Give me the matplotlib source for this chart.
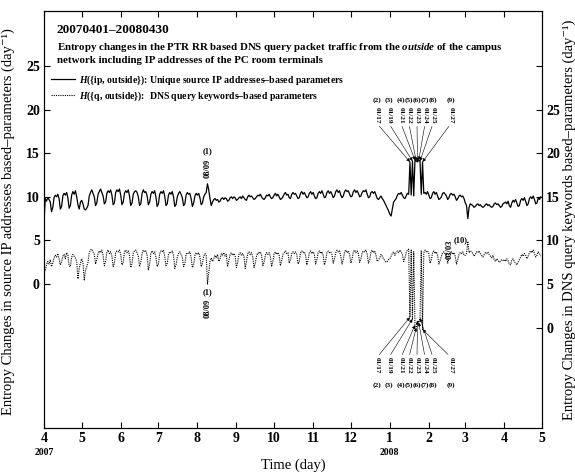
import numpy as np
import pandas as pd
import matplotlib
matplotlib.use('Agg')
import matplotlib.pyplot as plt
import matplotlib.dates as mdates
import matplotlib.transforms as mtransforms

plt.rcParams['font.family'] = ['Liberation Serif', 'DejaVu Serif']
plt.rcParams['mathtext.fontset'] = 'custom'
plt.rcParams['mathtext.rm'] = 'Liberation Serif:bold'
plt.rcParams['mathtext.it'] = 'Liberation Serif:italic:bold'
plt.rcParams['mathtext.bf'] = 'Liberation Serif:bold'

# daily entropy changes, one row per month (2007-04 .. 2008-04)
# H({ip, outside}) - left axis
ip_outside = [
    7.0, 9.8, 9.5, 9.9, 9.7, 9.4, 8.3, 8.8, 9.9, 10.2, 10.0, 10.3, 9.8, 8.6, 8.9, 10.1, 10.4, 10.2, 10.5, 9.9, 8.7, 9.0, 10.2, 10.6, 10.3, 10.7, 10.0, 9.1, 8.6, 9.4,
    9.6, 9.2, 8.6, 8.5, 8.7, 9.0, 10.1, 10.5, 10.8, 10.4, 10.0, 9.0, 9.3, 10.3, 10.6, 10.9, 10.5, 10.1, 9.2, 9.4, 10.4, 10.7, 10.5, 10.8, 10.2, 9.1, 9.3, 10.5, 10.8, 10.6, 10.9,
    10.2, 9.1, 9.4, 10.4, 10.7, 10.5, 10.8, 10.1, 9.0, 9.3, 10.3, 10.6, 10.7, 10.5, 10.0, 9.0, 9.2, 10.4, 10.8, 10.5, 10.6, 10.1, 9.1, 9.4, 10.3, 10.6, 10.4, 10.7, 10.0, 8.9,
    9.2, 10.3, 10.6, 10.4, 10.7, 10.1, 9.0, 9.2, 10.2, 10.5, 10.3, 10.6, 10.0, 8.9, 9.1, 10.0, 10.4, 10.6, 10.3, 9.9, 9.0, 9.2, 10.2, 10.5, 10.3, 10.4, 9.8, 8.9, 9.3, 10.1, 10.4,
    10.2, 10.4, 9.9, 9.1, 9.3, 10.0, 10.3, 10.5, 11.5, 10.8, 9.8, 9.0, 9.4, 9.7, 9.8, 9.6, 9.7, 9.4, 9.5, 9.8, 9.9, 9.7, 9.9, 9.8, 9.5, 9.6, 9.9, 10.0, 9.8, 10.0, 9.9,
    9.6, 9.7, 9.9, 10.0, 9.8, 10.1, 9.9, 9.7, 9.6, 10.0, 10.2, 10.0, 10.1, 9.9, 9.7, 9.8, 10.0, 10.2, 10.1, 10.3, 10.0, 9.8, 9.7, 9.9, 10.2, 10.1, 10.3, 10.0, 9.8, 9.9,
    10.2, 10.4, 10.1, 10.3, 10.0, 9.7, 9.8, 10.0, 10.3, 10.5, 10.2, 10.3, 9.9, 9.8, 10.3, 10.5, 10.3, 10.4, 10.1, 9.8, 9.9, 10.4, 10.6, 10.3, 10.5, 10.2, 9.9, 10.0, 10.4, 10.6, 10.3,
    10.5, 10.1, 9.8, 9.9, 10.4, 10.6, 10.4, 10.7, 10.3, 9.9, 10.0, 10.5, 10.7, 10.4, 10.6, 10.3, 9.9, 10.1, 10.6, 10.8, 10.5, 10.7, 10.2, 9.9, 10.1, 10.6, 10.8, 10.6, 10.7, 10.3,
    10.0, 10.1, 10.6, 10.8, 10.5, 10.7, 10.4, 10.0, 10.1, 10.5, 10.7, 10.6, 10.8, 10.3, 9.9, 10.0, 10.5, 10.6, 10.4, 10.6, 10.2, 9.8, 9.7, 9.9, 10.1, 9.8, 9.6, 9.3, 9.0, 8.7, 8.4,
    8.0, 7.8, 8.6, 9.4, 9.6, 9.8, 10.2, 10.4, 10.3, 10.5, 10.2, 9.9, 9.8, 10.1, 10.4, 10.3, 14.0, 10.2, 14.1, 10.1, 14.2, 14.1, 14.0, 14.2, 14.1, 10.3, 14.0, 10.4, 10.5, 10.3, 10.6,
    10.2, 9.8, 9.9, 10.4, 10.6, 10.3, 10.5, 10.1, 9.7, 9.8, 10.0, 10.4, 10.5, 10.3, 10.1, 9.7, 9.9, 10.3, 10.4, 10.2, 10.3, 10.0, 9.6, 9.8, 10.1, 10.2, 10.0, 10.1, 9.8,
    9.3, 9.0, 7.5, 8.8, 9.2, 9.1, 9.0, 8.8, 8.9, 9.1, 9.2, 9.0, 9.1, 8.9, 8.8, 8.9, 9.1, 9.2, 9.0, 9.1, 8.9, 8.8, 8.9, 9.2, 9.3, 9.1, 9.2, 9.0, 8.8, 8.9, 9.2,
    9.3, 9.4, 9.2, 9.5, 9.0, 8.8, 9.3, 9.6, 9.4, 9.7, 9.3, 8.9, 9.0, 9.6, 9.8, 9.6, 9.9, 9.5, 9.0, 9.2, 9.8, 10.0, 9.8, 10.1, 9.7, 9.2, 9.3, 9.9, 9.7, 10.0,
]

# H({q, outside}) - right axis
dns_outside = [
    6.6, 6.5, 7.2, 7.6, 7.3, 7.8, 7.0, 7.4, 8.0, 8.3, 8.1, 8.5, 7.9, 7.2, 7.6, 8.2, 8.4, 7.9, 8.6, 8.3, 7.1, 7.0, 8.1, 8.4, 8.2, 8.0, 7.6, 5.6, 6.8, 7.4,
    7.9, 7.5, 5.4, 6.6, 7.0, 7.5, 8.6, 8.9, 9.0, 8.7, 8.4, 7.3, 7.8, 8.5, 8.8, 8.6, 8.9, 8.3, 7.1, 7.6, 8.7, 8.9, 8.5, 8.7, 8.2, 7.0, 7.4, 8.6, 8.8, 8.7, 8.9,
    8.4, 7.2, 7.5, 8.7, 8.9, 8.6, 8.8, 8.3, 6.9, 7.4, 8.6, 8.8, 8.9, 8.6, 8.2, 7.0, 7.5, 8.5, 8.9, 8.7, 8.8, 8.3, 6.6, 7.3, 8.6, 8.8, 8.5, 8.7, 8.1, 7.0,
    7.3, 8.5, 8.8, 8.7, 8.9, 8.2, 7.1, 7.4, 8.4, 8.7, 8.6, 8.8, 8.3, 6.8, 7.2, 8.1, 8.5, 8.7, 8.4, 8.1, 7.0, 7.3, 8.4, 8.6, 8.5, 8.7, 8.0, 6.9, 7.2, 8.3, 8.6,
    8.4, 8.6, 8.1, 7.0, 7.4, 8.2, 8.5, 8.3, 5.0, 6.3, 7.6, 8.0, 7.6, 7.9, 8.3, 8.0, 8.4, 7.6, 7.9, 8.5, 8.3, 8.6, 8.2, 8.4, 7.0, 7.7, 8.4, 8.6, 8.3, 8.5, 8.2,
    6.9, 7.5, 8.4, 8.6, 8.3, 8.5, 8.2, 6.8, 7.6, 8.5, 8.7, 8.4, 8.6, 8.1, 6.9, 7.4, 8.2, 8.6, 8.5, 8.7, 8.3, 7.1, 7.5, 8.3, 8.6, 8.4, 8.6, 8.2, 7.0, 7.6,
    8.5, 8.7, 8.4, 8.6, 8.3, 7.1, 7.7, 8.4, 8.6, 8.8, 8.5, 8.6, 7.4, 7.8, 8.5, 8.7, 8.5, 8.7, 8.4, 7.3, 7.6, 8.6, 8.8, 8.6, 8.7, 8.3, 7.2, 7.8, 8.6, 8.8, 8.5,
    8.7, 8.4, 7.3, 7.8, 8.6, 8.8, 8.5, 8.7, 8.3, 7.2, 7.7, 8.6, 8.8, 8.6, 8.7, 8.4, 7.4, 7.9, 8.6, 8.9, 8.7, 8.8, 8.2, 7.3, 7.8, 8.7, 8.9, 8.6, 8.8, 8.4,
    7.4, 7.9, 8.7, 8.9, 8.6, 8.8, 8.5, 7.5, 7.9, 8.6, 8.8, 8.7, 8.9, 8.4, 7.4, 7.8, 8.7, 8.9, 8.6, 8.8, 8.3, 7.6, 7.8, 8.0, 8.4, 8.2, 7.9, 7.7, 7.5, 7.6, 7.8,
    7.9, 8.2, 8.5, 8.7, 8.3, 8.6, 8.8, 8.6, 8.9, 8.7, 8.4, 7.6, 8.0, 8.6, 8.9, 9.0, 1.2, 8.9, 1.0, 8.7, 0.3, 0.0, 0.8, 0.6, 1.1, 8.8, -0.2, 8.6, 8.9, 8.7, 8.8,
    8.5, 7.4, 7.8, 8.6, 8.8, 8.5, 8.7, 8.3, 7.3, 7.7, 8.2, 8.6, 8.7, 8.5, 8.4, 7.4, 7.9, 8.5, 8.7, 8.4, 8.6, 8.2, 7.3, 7.8, 8.4, 8.6, 8.5, 8.7, 8.3,
    8.3, 8.5, 9.9, 8.6, 8.8, 8.7, 8.5, 8.2, 8.4, 8.7, 8.6, 8.8, 8.5, 8.3, 8.1, 8.4, 8.6, 8.5, 8.7, 8.4, 8.2, 8.0, 8.3, 7.8, 7.6, 7.9, 7.7, 7.5, 7.6, 7.8, 7.7,
    7.8, 7.6, 7.9, 7.7, 7.3, 7.2, 7.7, 7.9, 7.6, 7.4, 7.2, 7.5, 7.8, 8.1, 8.4, 8.2, 8.5, 8.3, 7.9, 8.2, 8.6, 8.8, 8.6, 8.9, 8.5, 8.1, 8.3, 8.7, 8.5, 8.2,
]

days = pd.date_range('2007-04-01', '2008-04-30', freq='D')
month_ticks = pd.date_range('2007-04-01', '2008-05-01', freq='MS')
month_labels = [str(m.month) for m in month_ticks]
year_labels = {'2007-04-01': '2007', '2008-01-01': '2008'}

# annotated events
jan_dates = ['2008-01-17', '2008-01-19', '2008-01-21', '2008-01-22',
             '2008-01-23', '2008-01-24', '2008-01-25', '2008-01-27']
jan_marks = ['(2)', '(3)', '(4)', '(5)', '(6)', '(7)', '(8)', '(9)']
jan_label_day = [264.8, 274.3, 283.9, 290.2, 296.6, 303.0, 309.3, 323.6]

start = pd.Timestamp('2007-04-01')

fig = plt.figure(figsize=(5.75, 4.74), dpi=100)
ax = fig.add_axes([0.0765, 0.097, 0.8661, 0.8797])
ax2 = ax.twinx()

l1, = ax.plot(days, ip_outside, color='k', lw=0.9)
l2, = ax2.plot(days, dns_outside, color='k', lw=0.8, ls=(0, (1, 1)))

ax.set_xlim(month_ticks[0], month_ticks[-1])
ax.set_ylim(-16.5, 31.3)
ax2.set_ylim(-11.5, 36.3)

ax.set_xticks(month_ticks)
ax.set_xticklabels(month_labels, fontsize=10, fontweight='bold')
ax.set_yticks([0, 5, 10, 15, 20, 25])
ax.set_yticklabels(['0', '5', '10', '15', '20', '25'], fontsize=10, fontweight='bold')
ax2.set_yticks([0, 5, 10, 15, 20, 25, 30])
ax2.set_yticklabels(['0', '5', '10', '15', '20', '25', ''], fontsize=10, fontweight='bold')
ax.tick_params(axis='x', direction='in', top=True, length=4, pad=3)
ax.tick_params(axis='y', direction='in', length=4, pad=3)
ax2.tick_params(axis='y', direction='in', length=4, pad=3)
for sp in ax.spines.values():
    sp.set_linewidth(0.8)

trans = mtransforms.blended_transform_factory(ax.transData, ax.transAxes)
for d, yr in year_labels.items():
    ax.text(mdates.date2num(pd.Timestamp(d)), -0.058, yr, transform=trans,
            ha='center', va='center', fontsize=7, fontweight='bold')

ax.set_xlabel('Time (day)', fontsize=10.5)
ax.xaxis.set_label_coords(0.5, -0.072)
ax.set_ylabel('Entropy Changes in source IP addresses based\u2013parameters (day\u207b\u00b9)', fontsize=10.5)
ax.yaxis.set_label_coords(-0.058, 0.496)
ax2.set_ylabel('Entropy Changes in DNS query keywords based\u2013parameters (day\u207b\u00b9)', fontsize=10.5,
               rotation=90)
ax2.yaxis.set_label_coords(1.041, 0.5)

# header texts
ax.text(0.026, 0.954, '20070401\u201320080430', transform=ax.transAxes,
        fontsize=9.5, fontweight='bold', va='center')
ax.text(0.026, 0.927,
        'Entropy changes in the PTR RR based DNS query packet traffic from the $\\mathit{outside}$ of the campus\n'
        'network including IP addresses of the PC room terminals',
        transform=ax.transAxes, fontsize=7.8, fontweight='bold', va='top', linespacing=1.2)

ax2.legend([l1, l2],
           ['$H$({ip, outside}): Unique source IP addresses\u2013based parameters',
            '$H$({q, outside}):  DNS query keywords\u2013based parameters'],
           loc='upper left', bbox_to_anchor=(0.014, 0.851), frameon=False,
           borderpad=0, borderaxespad=0, handlelength=2.5, handletextpad=0.35,
           labelspacing=0.3, prop={'size': 7, 'weight': 'bold'})

ann_kw = dict(fontsize=5.2, fontweight='bold')
arrow_kw = dict(arrowstyle='-|>', lw=0.4, color='k', mutation_scale=5, shrinkA=0, shrinkB=0)

# Jan 2008 cluster, solid line (top) and dotted line (bottom)
ip_series = pd.Series(ip_outside, index=days)
dns_series = pd.Series(dns_outside, index=days)
for d, mk, ld in zip(jan_dates, jan_marks, jan_label_day):
    lx = mdates.date2num(start + pd.Timedelta(days=ld))
    px = mdates.date2num(pd.Timestamp(d))
    ax.text(lx, 21.1, mk, ha='center', va='center', **ann_kw)
    ax.annotate(pd.Timestamp(d).strftime('%m/%d'), xy=(px, ip_series[d]), xytext=(lx, 20.3),
                textcoords='data', rotation=-90, ha='center', va='top',
                arrowprops=dict(relpos=(0.5, 0.0), **arrow_kw), **ann_kw)
    ax2.text(lx, -6.6, mk, ha='center', va='center', **ann_kw)
    ax2.annotate(pd.Timestamp(d).strftime('%m/%d'), xy=(px, dns_series[d]), xytext=(lx, -3.4),
                 textcoords='data', rotation=-90, ha='center', va='top',
                 arrowprops=dict(relpos=(0.5, 1.0), **arrow_kw), **ann_kw)

# (1) 08/09
aug9 = mdates.date2num(pd.Timestamp('2007-08-09'))
ax.text(aug9, 15.2, '(1)', ha='center', va='center', fontsize=6, fontweight='bold')
ax.text(aug9, 14.4, '08/09', rotation=90, ha='center', va='top', fontsize=6, fontweight='bold')
ax2.text(aug9, 4.1, '(1)', ha='center', va='center', fontsize=6, fontweight='bold')
ax2.text(aug9, 3.3, '08/09', rotation=90, ha='center', va='top', fontsize=6, fontweight='bold')

# (10) 03/03
ax2.text(mdates.date2num(start + pd.Timedelta(days=322.8)), 9.0, '03/03', rotation=90,
         ha='center', va='center', fontsize=6, fontweight='bold')
ax2.text(mdates.date2num(start + pd.Timedelta(days=331.6)), 10.0, '(10)',
         ha='center', va='center', fontsize=6, fontweight='bold')

fig.savefig('out.png', dpi=100)
